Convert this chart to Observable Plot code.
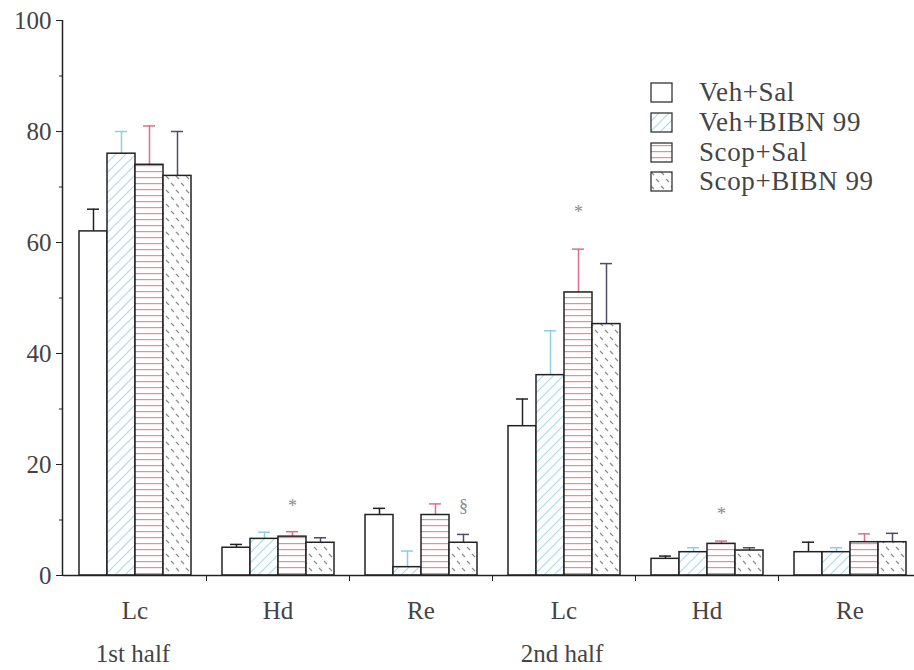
<!DOCTYPE html>
<html><head><meta charset="utf-8">
<script src="https://cdn.jsdelivr.net/npm/d3@7"></script>
<script src="https://cdn.jsdelivr.net/npm/@observablehq/plot@0.6"></script>
<style>
html,body{margin:0;padding:0;background:#fff;overflow:hidden;}
#wrap{position:relative;width:914px;height:670px;overflow:hidden;}
#legend{position:absolute;left:650px;top:78px;font-family:"Liberation Serif",serif;font-size:27px;letter-spacing:0.6px;color:#444;}
.row{display:flex;align-items:center;height:29.7px;}
.row svg{margin-right:26px;flex:none;}
</style></head><body>
<div id="wrap"><div id="chart"></div><div id="legend"></div></div>
<script>
const groupLabels = ["Lc", "Hd", "Re", "Lc", "Hd", "Re"];
const halfLabels = ["1st half", "", "", "2nd half", "", ""];
const seriesNames = ["Veh+Sal", "Veh+BIBN 99", "Scop+Sal", "Scop+BIBN 99"];
const yTicks = [0, 20, 40, 60, 80, 100];
const yMinorTicks = [10, 30, 50, 70, 90];

const vehSal = [62, 5.0, 10.9, 26.9, 3.0, 4.2];
const vehSalErr = [4, 0.6, 1.2, 4.9, 0.5, 1.8];
const vehBibn = [76, 6.6, 1.5, 36.1, 4.2, 4.2];
const vehBibnErr = [4, 1.2, 2.9, 8.0, 0.8, 0.8];
const scopSal = [74, 7.0, 10.9, 51, 5.7, 6.0];
const scopSalErr = [7, 0.9, 2.0, 7.8, 0.5, 1.5];
const scopBibn = [72, 5.9, 5.9, 45.3, 4.5, 6.0];
const scopBibnErr = [8, 0.9, 1.5, 10.9, 0.5, 1.6];

const annGroup = [1, 2, 3, 4];
const annSeries = ["Scop+Sal", "Scop+BIBN 99", "Scop+Sal", "Scop+Sal"];
const annSymbol = ["*", "§", "*", "*"];
const annY = [12.5, 12.5, 65.5, 11];

const fillOf = {"Veh+Sal": "#ffffff", "Veh+BIBN 99": "url(#pBlue)", "Scop+Sal": "url(#pRed)", "Scop+BIBN 99": "url(#pHatch)"};
const errColorOf = {"Veh+Sal": "#222222", "Veh+BIBN 99": "#8fcde0", "Scop+Sal": "#dd6f8a", "Scop+BIBN 99": "#4d4d66"};

const patternDefs = `
<pattern id="pBlue" patternUnits="userSpaceOnUse" width="10" height="10">
 <rect width="10" height="10" fill="#ffffff" stroke="none"/>
 <path d="M-1,1 l2,-2 M0,10 l10,-10 M9,11 l2,-2" stroke="#a9dcec" stroke-width="1.1" fill="none"/>
</pattern>
<pattern id="pRed" patternUnits="userSpaceOnUse" width="10" height="6">
 <rect width="10" height="6" fill="#ffffff" stroke="none"/>
 <rect x="0" y="3" width="10" height="1.2" fill="#e68ca3" stroke="none"/>
</pattern>
<pattern id="pHatch" patternUnits="userSpaceOnUse" width="10" height="14">
 <rect width="10" height="14" fill="#ffffff" stroke="none"/>
 <path d="M1,1 l3,3 M6,8 l3,3" stroke="#8c8c8c" stroke-width="1.2" fill="none"/>
</pattern>`;

const valueSets = [vehSal, vehBibn, scopSal, scopBibn];
const errSets = [vehSalErr, vehBibnErr, scopSalErr, scopBibnErr];
const rows = [];
groupLabels.forEach((_, g) => seriesNames.forEach((s, j) => rows.push({g, s, v: valueSets[j][g], e: errSets[j][g]})));
const ann = annGroup.map((g, i) => ({g, s: annSeries[i], t: annSymbol[i], y: annY[i]}));
const halves = halfLabels.map((t, g) => ({g, t})).filter(d => d.t);

const FONT = "Liberation Serif";
const TXT = "#444";
const plot = Plot.plot({
  width: 921, height: 670,
  marginLeft: 63, marginRight: 0, marginTop: 20, marginBottom: 95,
  style: {fontFamily: FONT, maxWidth: "none", background: "#fff"},
  fx: {domain: d3.range(groupLabels.length), padding: 0, label: null, axis: null},
  x: {domain: seriesNames, paddingInner: 0, paddingOuter: 0.5, label: null, axis: null},
  y: {domain: [0, 100], label: null, axis: null},
  color: {type: "identity"},
  marks: [
    Plot.axisY({ticks: yTicks, tickSize: 7, tickPadding: 5, fontSize: 25, fill: TXT, stroke: "#222", label: null}),
    Plot.axisY({ticks: yMinorTicks, tickSize: 4, tickFormat: () => "", stroke: "#222", label: null}),
    Plot.axisFx({anchor: "bottom", tickSize: 0, tickPadding: 26, fontSize: 25, fill: TXT, tickFormat: i => groupLabels[i], label: null}),
    Plot.axisFx({anchor: "bottom", tickSize: 6, tickFormat: () => "", stroke: "#222", dx: 71.5, label: null}),
    Plot.ruleX(rows, {fx: "g", x: "s", y1: "v", y2: d => d.v + d.e, stroke: d => errColorOf[d.s], strokeWidth: 1.5}),
    Plot.tickY(rows, {fx: "g", x: "s", y: d => d.v + d.e, stroke: d => errColorOf[d.s], strokeWidth: 1.5, insetLeft: 8, insetRight: 8}),
    Plot.barY(rows, {fx: "g", x: "s", y: "v", fill: d => fillOf[d.s], stroke: "#222", strokeWidth: 1.5}),
    Plot.ruleY([0], {stroke: "#222", strokeWidth: 1.5}),
    Plot.text(ann, {fx: "g", x: "s", y: "y", text: "t", fill: "#8a8a8a", fontSize: 18, fontFamily: FONT}),
    Plot.text(halves, {fx: "g", text: "t", frameAnchor: "bottom", dy: 86, dx: -2, fontSize: 25, fill: TXT, fontFamily: FONT})
  ]
});
d3.select(plot).insert("defs", ":first-child").html(patternDefs);
document.getElementById("chart").appendChild(plot);

// y-axis domain line along the left edge of the first facet
const ys = plot.scale("y"), fxs = plot.scale("fx");
d3.select(plot).append("line")
  .attr("x1", fxs.range[0] - 0.5).attr("x2", fxs.range[0] - 0.5)
  .attr("y1", ys.range[0]).attr("y2", ys.range[1])
  .attr("stroke", "#222").attr("stroke-width", 1.5);

// legend
const legend = d3.select("#legend");
seriesNames.forEach(s => {
  const row = legend.append("div").attr("class", "row");
  const sw = row.append("svg").attr("width", 23).attr("height", 21);
  sw.append("rect").attr("x", 1).attr("y", 1).attr("width", 21).attr("height", 19)
    .attr("fill", fillOf[s]).attr("stroke", "#333").attr("stroke-width", 1.3);
  row.append("span").text(s);
});
</script>
</body></html>
